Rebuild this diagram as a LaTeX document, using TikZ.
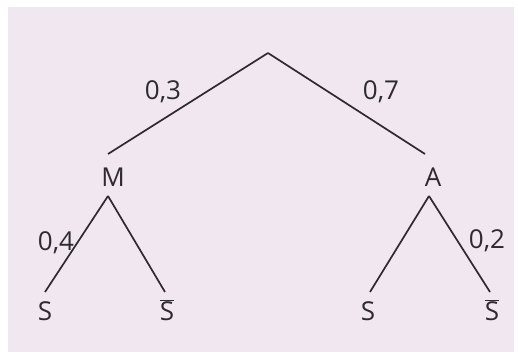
\documentclass[tikz,border=0pt]{standalone}
\usepackage{fontspec}
\setmainfont{Open Sans}
\definecolor{paper}{HTML}{F0E7F1}
\definecolor{ink}{HTML}{2E2A30}
\begin{document}
\begin{tikzpicture}[x=1pt,y=-1pt,
  branch/.style={draw=ink,line width=1.7pt},
  lbl/.style={text=ink,font=\fontsize{26}{28}\selectfont,inner sep=0pt,anchor=base},
  prob/.style={text=ink,font=\fontsize{26}{28}\selectfont,inner sep=0pt}]
\useasboundingbox (0,0) rectangle (518,352);
\fill[white] (0,0) rectangle (518,352);
\fill[paper] (8,7) rectangle (514,352);
\coordinate (root) at (268,53);
\node[lbl] (M) at (113,187) {M};
\node[lbl] (A) at (433,187) {A};
\node[lbl] (S1) at (45,320) {S};
\node[lbl] (S2) at (167,320) {$\overline{\mbox{S}}$};
\node[lbl] (S3) at (368,320) {S};
\node[lbl] (S4) at (492,320) {$\overline{\mbox{S}}$};
\node[prob] (p1) at (163,92) {0,3};
\node[prob] (p2) at (381,92) {0,7};
\node[prob] (p3) at (56,243) {0,4};
\node[prob] (p4) at (487,241) {0,2};
\coordinate (Mt) at (108,154);
\coordinate (At) at (425,154);
\coordinate (Mb) at (108,196);
\coordinate (Ab) at (429,196);
\coordinate (S1t) at (45,292);
\coordinate (S2t) at (165,292);
\coordinate (S3t) at (370,292);
\coordinate (S4t) at (490,292);
\draw[branch] (root) -- (Mt);
\draw[branch] (root) -- (At);
\draw[branch] (Mb) -- (S1t);
\draw[branch] (Mb) -- (S2t);
\draw[branch] (Ab) -- (S3t);
\draw[branch] (Ab) -- (S4t);
\end{tikzpicture}
\end{document}
